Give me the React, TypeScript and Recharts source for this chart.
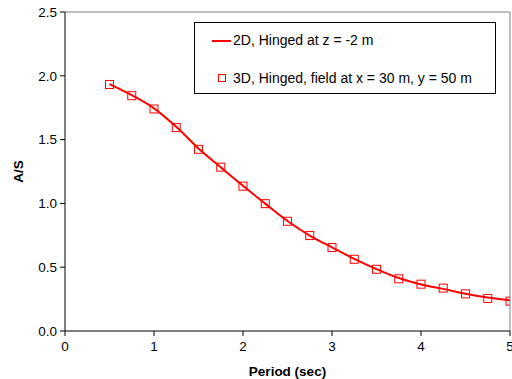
import React from "react";
import {
  ComposedChart,
  Line,
  XAxis,
  YAxis,
  Legend,
  ReferenceLine,
} from "recharts";

// Periods (sec) sampled in the plot
const periods = [
  0.5, 0.75, 1.0, 1.25, 1.5, 1.75, 2.0, 2.25, 2.5, 2.75, 3.0, 3.25, 3.5, 3.75,
  4.0, 4.25, 4.5, 4.75, 5.0,
];
// 2D, hinged at z = -2 m (solid line)
const hinged2D = [
  1.935, 1.848, 1.745, 1.6, 1.43, 1.283, 1.138, 0.998, 0.862, 0.748, 0.655,
  0.565, 0.485, 0.415, 0.365, 0.33, 0.292, 0.262, 0.24,
];
// 3D, hinged, field at x = 30 m, y = 50 m (square markers)
const hinged3D = [
  1.932, 1.844, 1.74, 1.594, 1.424, 1.284, 1.135, 0.998, 0.86, 0.748, 0.654,
  0.562, 0.484, 0.409, 0.367, 0.336, 0.291, 0.255, 0.234,
];
const xTicks = [0, 1, 2, 3, 4, 5];
const yTicks = [0, 0.5, 1.0, 1.5, 2.0, 2.5];

const labels2D = "2D, Hinged at z = -2 m";
const labels3D = "3D, Hinged, field at x = 30 m, y = 50 m";

const data = periods.map((p, i) => ({
  period: p,
  twoD: hinged2D[i],
  threeD: hinged3D[i],
}));

const RED = "#ff0000";
const FONT = "'Liberation Sans', Arial, sans-serif";

const SquareDot = (props: any) => {
  const { cx, cy, index } = props;
  if (cx == null || cy == null) return null;
  return (
    <rect
      key={`sq-${index}`}
      x={cx - 4}
      y={cy - 4}
      width={8}
      height={8}
      fill="none"
      stroke={RED}
      strokeWidth={1}
    />
  );
};

const LegendBox = () => (
  <div
    style={{
      width: 300,
      height: 70,
      border: "1px solid #000",
      background: "#fff",
      fontFamily: FONT,
      fontSize: 14,
      color: "#000",
      boxSizing: "content-box",
      position: "relative",
    }}
  >
    <div style={{ position: "absolute", left: 17, top: 17, width: 19, height: 2, background: RED }} />
    <div style={{ position: "absolute", left: 38, top: 9, lineHeight: "16px", whiteSpace: "nowrap" }}>
      {labels2D}
    </div>
    <div
      style={{
        position: "absolute",
        left: 23,
        top: 51,
        width: 6,
        height: 6,
        border: `1px solid ${RED}`,
      }}
    />
    <div style={{ position: "absolute", left: 38, top: 47, lineHeight: "16px", whiteSpace: "nowrap" }}>
      {labels3D}
    </div>
  </div>
);

const tickStyle = { fontFamily: FONT, fontSize: 13.5, fill: "#000" };

export default function App() {
  return (
    <div style={{ position: "absolute", left: 0, top: 0, background: "#fff" }}>
      <ComposedChart
        width={512}
        height={379}
        data={data}
        margin={{ top: 12, right: 2, bottom: 0, left: 0 }}
      >
        <XAxis
          dataKey="period"
          type="number"
          domain={[0, 5]}
          ticks={xTicks}
          interval={0}
          allowDataOverflow
          stroke="#000"
          tickSize={5}
          tickMargin={5}
          height={48}
          tick={tickStyle}
          tickFormatter={(v: number) => String(v)}
          label={{
            value: "Period (sec)",
            position: "insideBottom",
            offset: 3,
            style: { fontFamily: FONT, fontSize: 13.5, fontWeight: "bold", fill: "#000" },
          }}
        />
        <YAxis
          type="number"
          domain={[0, 2.5]}
          ticks={yTicks}
          interval={0}
          stroke="#000"
          width={65}
          tickSize={5}
          tickMargin={3}
          tick={tickStyle}
          tickFormatter={(v: number) => v.toFixed(1)}
          label={{
            value: "A/S",
            angle: -90,
            position: "insideLeft",
            offset: 18,
            style: { fontFamily: FONT, fontSize: 13.5, fontWeight: "bold", fill: "#000", textAnchor: "middle" },
          }}
        />
        <ReferenceLine y={2.5} stroke="#808080" strokeWidth={1} />
        <ReferenceLine x={5} stroke="#808080" strokeWidth={1} />
        <Legend
          layout="horizontal"
          verticalAlign="middle"
          align="center"
          content={<LegendBox />}
          wrapperStyle={{ left: 194, top: 22, width: 302, height: 72 }}
        />
        <Line
          type="monotone"
          dataKey="twoD"
          stroke={RED}
          strokeWidth={2}
          dot={false}
          isAnimationActive={false}
        />
        <Line
          type="monotone"
          dataKey="threeD"
          stroke="none"
          dot={<SquareDot />}
          isAnimationActive={false}
        />
      </ComposedChart>
    </div>
  );
}
